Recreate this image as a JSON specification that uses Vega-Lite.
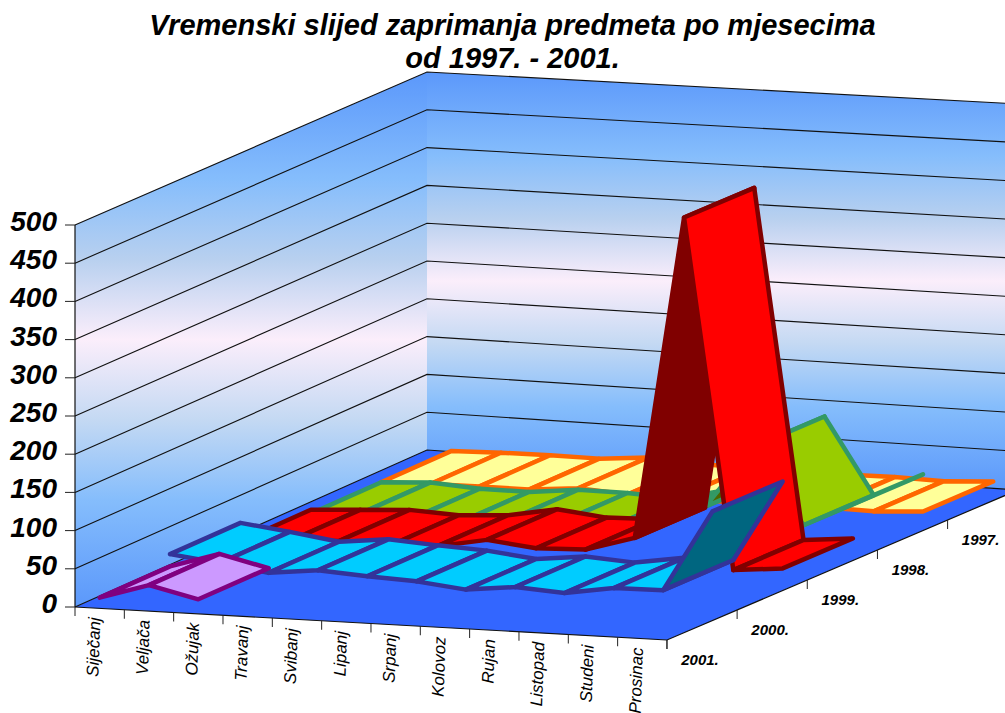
{
"$schema":"https://vega.github.io/schema/vega-lite/v6.json",
"width":1005,"height":713,"padding":0,"autosize":{"type":"none"},
"background":"white",
"config":{"view":{"stroke":null},"font":"Liberation Sans"},
"title":{"text":["Vremenski slijed zaprimanja predmeta po mjesecima","od 1997. - 2001."],"font":"Liberation Sans","fontSize":29,"fontWeight":"bold","fontStyle":"italic","color":"#000000","anchor":"middle","frame":"group","orient":"top","baseline":"top","offset":-74,"dx":10,"lineHeight":33},
"datasets":{
"predmeti":[
{"godina":1997,"mjesec":1,"predmeti":1},{"godina":1997,"mjesec":2,"predmeti":3},{"godina":1997,"mjesec":3,"predmeti":4},{"godina":1997,"mjesec":4,"predmeti":4},{"godina":1997,"mjesec":5,"predmeti":10},{"godina":1997,"mjesec":6,"predmeti":6},{"godina":1997,"mjesec":7,"predmeti":5},{"godina":1997,"mjesec":8,"predmeti":5},{"godina":1997,"mjesec":9,"predmeti":5},{"godina":1997,"mjesec":10,"predmeti":6},{"godina":1997,"mjesec":11,"predmeti":5},{"godina":1997,"mjesec":12,"predmeti":9},
{"godina":1998,"mjesec":1,"predmeti":1},{"godina":1998,"mjesec":2,"predmeti":5},{"godina":1998,"mjesec":3,"predmeti":1},{"godina":1998,"mjesec":4,"predmeti":1},{"godina":1998,"mjesec":5,"predmeti":8},{"godina":1998,"mjesec":6,"predmeti":8},{"godina":1998,"mjesec":7,"predmeti":5},{"godina":1998,"mjesec":8,"predmeti":20},{"godina":1998,"mjesec":9,"predmeti":42},{"godina":1998,"mjesec":10,"predmeti":124},{"godina":1998,"mjesec":11,"predmeti":26},{"godina":1998,"mjesec":12,"predmeti":57},
{"godina":1999,"mjesec":1,"predmeti":6},{"godina":1999,"mjesec":2,"predmeti":10},{"godina":1999,"mjesec":3,"predmeti":14},{"godina":1999,"mjesec":4,"predmeti":11},{"godina":1999,"mjesec":5,"predmeti":15},{"godina":1999,"mjesec":6,"predmeti":27},{"godina":1999,"mjesec":7,"predmeti":20},{"godina":1999,"mjesec":8,"predmeti":22},{"godina":1999,"mjesec":9,"predmeti":41},{"godina":1999,"mjesec":10,"predmeti":459},{"godina":1999,"mjesec":11,"predmeti":7},{"godina":1999,"mjesec":12,"predmeti":13},
{"godina":2000,"mjesec":1,"predmeti":30},{"godina":2000,"mjesec":2,"predmeti":22},{"godina":2000,"mjesec":3,"predmeti":13},{"godina":2000,"mjesec":4,"predmeti":20},{"godina":2000,"mjesec":5,"predmeti":16},{"godina":2000,"mjesec":6,"predmeti":13},{"godina":2000,"mjesec":7,"predmeti":6},{"godina":2000,"mjesec":8,"predmeti":13},{"godina":2000,"mjesec":9,"predmeti":9},{"godina":2000,"mjesec":10,"predmeti":19},{"godina":2000,"mjesec":11,"predmeti":20},{"godina":2000,"mjesec":12,"predmeti":125},
{"godina":2001,"mjesec":1,"predmeti":14},{"godina":2001,"mjesec":2,"predmeti":34},{"godina":2001,"mjesec":3,"predmeti":19}
],
"ravnine":[
{"ravnina":"lijevi","ugao":0,"u":0,"d":0,"v":0},{"ravnina":"lijevi","ugao":1,"u":0,"d":5,"v":0},{"ravnina":"lijevi","ugao":2,"u":0,"d":5,"v":500},{"ravnina":"lijevi","ugao":3,"u":0,"d":0,"v":500},
{"ravnina":"straznji","ugao":0,"u":0,"d":5,"v":0},{"ravnina":"straznji","ugao":1,"u":12,"d":5,"v":0},{"ravnina":"straznji","ugao":2,"u":12,"d":5,"v":500},{"ravnina":"straznji","ugao":3,"u":0,"d":5,"v":500},
{"ravnina":"pod","ugao":0,"u":0,"d":0,"v":0},{"ravnina":"pod","ugao":1,"u":12,"d":0,"v":0},{"ravnina":"pod","ugao":2,"u":12,"d":5,"v":0},{"ravnina":"pod","ugao":3,"u":0,"d":5,"v":0}
],
"mreza":[
{"v":0,"t":0,"u":0,"d":0},{"v":0,"t":1,"u":0,"d":5},{"v":0,"t":2,"u":12,"d":5},
{"v":50,"t":0,"u":0,"d":0},{"v":50,"t":1,"u":0,"d":5},{"v":50,"t":2,"u":12,"d":5},
{"v":100,"t":0,"u":0,"d":0},{"v":100,"t":1,"u":0,"d":5},{"v":100,"t":2,"u":12,"d":5},
{"v":150,"t":0,"u":0,"d":0},{"v":150,"t":1,"u":0,"d":5},{"v":150,"t":2,"u":12,"d":5},
{"v":200,"t":0,"u":0,"d":0},{"v":200,"t":1,"u":0,"d":5},{"v":200,"t":2,"u":12,"d":5},
{"v":250,"t":0,"u":0,"d":0},{"v":250,"t":1,"u":0,"d":5},{"v":250,"t":2,"u":12,"d":5},
{"v":300,"t":0,"u":0,"d":0},{"v":300,"t":1,"u":0,"d":5},{"v":300,"t":2,"u":12,"d":5},
{"v":350,"t":0,"u":0,"d":0},{"v":350,"t":1,"u":0,"d":5},{"v":350,"t":2,"u":12,"d":5},
{"v":400,"t":0,"u":0,"d":0},{"v":400,"t":1,"u":0,"d":5},{"v":400,"t":2,"u":12,"d":5},
{"v":450,"t":0,"u":0,"d":0},{"v":450,"t":1,"u":0,"d":5},{"v":450,"t":2,"u":12,"d":5},
{"v":500,"t":0,"u":0,"d":0},{"v":500,"t":1,"u":0,"d":5},{"v":500,"t":2,"u":12,"d":5}
],
"rubovi":[
{"rub":"a","t":0,"u":0,"d":0,"v":0},{"rub":"a","t":1,"u":12,"d":0,"v":0},{"rub":"a","t":2,"u":12,"d":5,"v":0},
{"rub":"b","t":0,"u":0,"d":0,"v":0},{"rub":"b","t":1,"u":0,"d":0,"v":500}
],
"vrijednosti":[{"v":0},{"v":50},{"v":100},{"v":150},{"v":200},{"v":250},{"v":300},{"v":350},{"v":400},{"v":450},{"v":500}],
"mjeseci":[{"u":0,"naziv":"Siječanj"},{"u":1,"naziv":"Veljača"},{"u":2,"naziv":"Ožujak"},{"u":3,"naziv":"Travanj"},{"u":4,"naziv":"Svibanj"},{"u":5,"naziv":"Lipanj"},{"u":6,"naziv":"Srpanj"},{"u":7,"naziv":"Kolovoz"},{"u":8,"naziv":"Rujan"},{"u":9,"naziv":"Listopad"},{"u":10,"naziv":"Studeni"},{"u":11,"naziv":"Prosinac"},{"u":12,"naziv":""}],
"godine":[{"d":0,"naziv":"2001."},{"d":1,"naziv":"2000."},{"d":2,"naziv":"1999."},{"d":3,"naziv":"1998."},{"d":4,"naziv":"1997."},{"d":5,"naziv":""}]
},
"encoding":{
"x":{"field":"x","type":"quantitative","scale":{"domain":[0,1005],"nice":false,"zero":false},"axis":null},
"y":{"field":"y","type":"quantitative","scale":{"domain":[713,0],"nice":false,"zero":false},"axis":null}
},
"layer":[
{"data":{"name":"ravnine"},"transform":[{"filter":"datum.ravnina==='lijevi'"},
{"calculate":"75+49.33*datum.u+70.4*datum.d-0.02*datum.u*datum.d","as":"x"},
{"calculate":"607+2.75*datum.u-31.4*datum.d+0.117*datum.u*datum.d-datum.v/500*(382-0.8*datum.d+0.67*datum.u)","as":"y"}],
"mark":{"type":"line","strokeOpacity":0,"fill":{"gradient":"linear","x1":0,"y1":0,"x2":0,"y2":1,"stops":[{"offset":0,"color":"#5b98fb"},{"offset":0.2,"color":"#85bdfc"},{"offset":0.35,"color":"#b8d0ef"},{"offset":0.5,"color":"#fbeefb"},{"offset":0.65,"color":"#c4d9f3"},{"offset":0.8,"color":"#85bdfc"},{"offset":1,"color":"#5b98fb"}]}},
"encoding":{"order":{"field":"ugao"}}},
{"data":{"name":"ravnine"},"transform":[{"filter":"datum.ravnina==='straznji'"},
{"calculate":"75+49.33*datum.u+70.4*datum.d-0.02*datum.u*datum.d","as":"x"},
{"calculate":"607+2.75*datum.u-31.4*datum.d+0.117*datum.u*datum.d-datum.v/500*(382-0.8*datum.d+0.67*datum.u)","as":"y"}],
"mark":{"type":"line","strokeOpacity":0,"fill":{"gradient":"linear","x1":0,"y1":0,"x2":0,"y2":1,"stops":[{"offset":0,"color":"#5b98fb"},{"offset":0.2,"color":"#85bdfc"},{"offset":0.35,"color":"#b8d0ef"},{"offset":0.5,"color":"#fbeefb"},{"offset":0.65,"color":"#c4d9f3"},{"offset":0.8,"color":"#85bdfc"},{"offset":1,"color":"#5b98fb"}]}},
"encoding":{"order":{"field":"ugao"}}},
{"data":{"name":"ravnine"},"transform":[{"filter":"datum.ravnina==='pod'"},
{"calculate":"75+49.33*datum.u+70.4*datum.d-0.02*datum.u*datum.d","as":"x"},
{"calculate":"607+2.75*datum.u-31.4*datum.d+0.117*datum.u*datum.d-datum.v/500*(382-0.8*datum.d+0.67*datum.u)","as":"y"}],
"mark":{"type":"line","strokeOpacity":0,"fill":"#3366ff"},
"encoding":{"order":{"field":"ugao"}}},
{"data":{"name":"mreza"},"transform":[
{"calculate":"75+49.33*datum.u+70.4*datum.d-0.02*datum.u*datum.d","as":"x"},
{"calculate":"607+2.75*datum.u-31.4*datum.d+0.117*datum.u*datum.d-datum.v/500*(382-0.8*datum.d+0.67*datum.u)","as":"y"}],
"mark":{"type":"line","stroke":"#111111","strokeWidth":1.1},
"encoding":{"order":{"field":"t"},"detail":{"field":"v","type":"nominal"}}},
{"data":{"name":"rubovi"},"transform":[
{"calculate":"75+49.33*datum.u+70.4*datum.d-0.02*datum.u*datum.d","as":"x"},
{"calculate":"607+2.75*datum.u-31.4*datum.d+0.117*datum.u*datum.d-datum.v/500*(382-0.8*datum.d+0.67*datum.u)","as":"y"}],
"mark":{"type":"line","stroke":"#111111","strokeWidth":1.2},
"encoding":{"order":{"field":"t"},"detail":{"field":"rub","type":"nominal"}}},
{"data":{"name":"vrijednosti"},"transform":[
{"calculate":"75","as":"x"},{"calculate":"65","as":"x2"},
{"calculate":"607-datum.v/500*382","as":"y"}],
"mark":{"type":"rule","stroke":"#222222","strokeWidth":1},
"encoding":{"x2":{"field":"x2"}}},
{"data":{"name":"vrijednosti"},"transform":[
{"calculate":"57","as":"x"},
{"calculate":"607-datum.v/500*382","as":"y"}],
"mark":{"type":"text","align":"right","baseline":"middle","dy":-2,"fontSize":28,"fontWeight":"bold","fontStyle":"italic","font":"Liberation Sans","color":"#000000"},
"encoding":{"text":{"field":"v","type":"nominal"}}},
{"data":{"name":"mjeseci"},"transform":[
{"calculate":"75+49.33*datum.u","as":"x"},
{"calculate":"607+2.75*datum.u","as":"y"},{"calculate":"datum.y+9","as":"y2"}],
"mark":{"type":"rule","stroke":"#222222","strokeWidth":1},
"encoding":{"y2":{"field":"y2"}}},
{"data":{"name":"mjeseci"},"transform":[
{"calculate":"75+49.33*(datum.u+0.5)","as":"x"},
{"calculate":"607+2.75*(datum.u+0.5)","as":"y"}],
"mark":{"type":"text","align":"right","baseline":"middle","angle":272,"dy":-4,"dx":-9,"fontSize":17,"fontStyle":"italic","font":"Liberation Sans","color":"#000000"},
"encoding":{"text":{"field":"naziv","type":"nominal"}}},
{"data":{"name":"godine"},"transform":[
{"calculate":"75+49.33*12+70.4*datum.d-0.02*12*datum.d","as":"x"},
{"calculate":"607+2.75*12-31.4*datum.d+0.117*12*datum.d","as":"y"},{"calculate":"datum.y+9","as":"y2"}],
"mark":{"type":"rule","stroke":"#222222","strokeWidth":1},
"encoding":{"y2":{"field":"y2"}}},
{"data":{"name":"godine"},"transform":[
{"calculate":"75+49.33*12+70.4*datum.d-0.02*12*datum.d","as":"x"},
{"calculate":"607+2.75*12-31.4*datum.d+0.117*12*datum.d","as":"y"}],
"mark":{"type":"text","align":"center","baseline":"middle","dx":33,"dy":20,"fontSize":15,"fontWeight":"bold","fontStyle":"italic","font":"Liberation Sans","color":"#000000"},
"encoding":{"text":{"field":"naziv","type":"nominal"}}},
{"data":{"name":"predmeti"},"transform":[
{"window":[{"op":"lead","field":"predmeti","as":"sljedeci"}],"sort":[{"field":"mjesec"}],"groupby":["godina"]},
{"filter":"isValid(datum.sljedeci)"},
{"calculate":"[0,1,2,3,4]","as":"uglovi"},
{"flatten":["uglovi"],"as":["ugao"]},
{"calculate":"datum.mjesec-0.5+((datum.ugao===1||datum.ugao===2)?1:0)","as":"u"},
{"calculate":"2001-datum.godina+((datum.ugao===2||datum.ugao===3)?1:0)","as":"d"},
{"calculate":"(datum.ugao===1||datum.ugao===2)?datum.sljedeci:datum.predmeti","as":"v"},
{"calculate":"75+49.33*datum.u+70.4*datum.d-0.02*datum.u*datum.d","as":"x"},
{"calculate":"607+2.75*datum.u-31.4*datum.d+0.117*datum.u*datum.d-datum.v/500*(382-0.8*datum.d+0.67*datum.u)","as":"y"},
{"calculate":"datum.godina*100+datum.mjesec","as":"poligon"},
{"calculate":"datum.godina+((datum.sljedeci-datum.predmeti>30)?' donja':' gornja')","as":"lice"}],
"mark":{"type":"line","strokeWidth":4.5,"strokeJoin":"round","strokeCap":"round"},
"encoding":{
"order":{"field":"ugao"},
"detail":{"field":"poligon","type":"nominal"},
"stroke":{"field":"godina","type":"nominal","legend":null,"scale":{"domain":[1997,1998,1999,2000,2001],"range":["#ff6600","#339966","#800000","#333399","#800080"]}},
"fill":{"field":"lice","type":"nominal","legend":null,"scale":{"domain":["1997 gornja","1998 gornja","1998 donja","1999 gornja","1999 donja","2000 gornja","2000 donja","2001 gornja"],"range":["#ffff99","#99cc00","#4d6600","#ff0000","#800000","#00ccff","#006680","#cc99ff"]}}
}}
]
}
